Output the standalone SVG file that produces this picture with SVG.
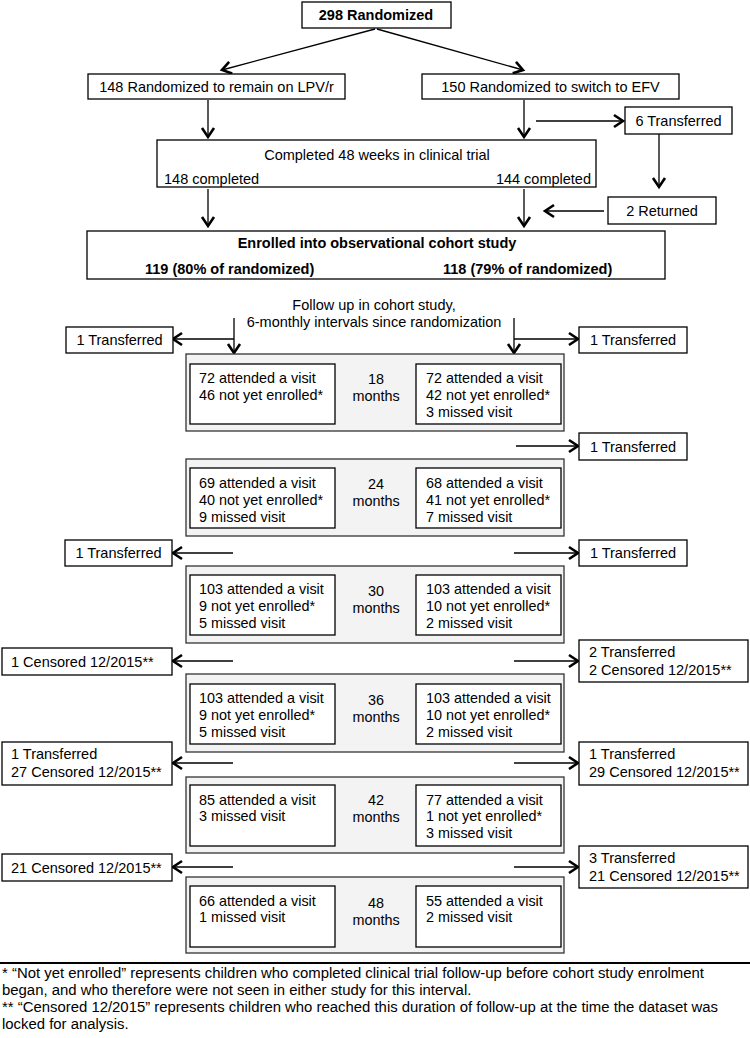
<svg xmlns="http://www.w3.org/2000/svg" width="750" height="1038" viewBox="0 0 750 1038">
<defs>
<marker id="ah" markerWidth="14" markerHeight="16" refX="11" refY="7" orient="auto" markerUnits="userSpaceOnUse" viewBox="0 0 14 14">
<path d="M2,1 L11,7 L2,13" fill="none" stroke="#000" stroke-width="2.6"/>
</marker>
</defs>
<style>
text{font-family:"Liberation Sans",Arial,sans-serif;fill:#000}
.t{font-size:14.5px}
.s{font-size:14.4px}
.f{font-size:14.9px}
.b{font-weight:bold}
.m{text-anchor:middle}
.e{text-anchor:end}
.box{fill:#fff;stroke:#000;stroke-width:1.3}
.panel{fill:#f3f3f3;stroke:#333;stroke-width:1.3}
.ln{fill:none;stroke:#000;stroke-width:1.3}
.ar{fill:none;stroke:#000;stroke-width:1.3;marker-end:url(#ah)}
</style>
<rect width="750" height="1038" fill="#fff"/>

<g id="connectors">
<line class="ar" x1="375" y1="29" x2="222" y2="70"/>
<line class="ar" x1="377" y1="29" x2="523" y2="70"/>
<line class="ar" x1="208" y1="100" x2="208" y2="137"/>
<line class="ar" x1="524" y1="100" x2="524" y2="137"/>
<line class="ar" x1="536" y1="121" x2="623" y2="121"/>
<line class="ar" x1="659" y1="134" x2="659" y2="187"/>
<line class="ar" x1="604" y1="211" x2="545" y2="211"/>
<line class="ar" x1="208" y1="189" x2="208" y2="226"/>
<line class="ar" x1="524" y1="189" x2="524" y2="226"/>
<line class="ar" x1="234" y1="318" x2="234" y2="353"/>
<line class="ar" x1="514" y1="318" x2="514" y2="353"/>
<line class="ar" x1="234" y1="339" x2="173" y2="339"/>
<line class="ar" x1="514" y1="339" x2="578" y2="339"/>
<line class="ar" x1="516" y1="446" x2="578" y2="446"/>
<line class="ar" x1="233" y1="553" x2="173" y2="553"/>
<line class="ar" x1="514" y1="553" x2="578" y2="553"/>
<line class="ar" x1="233" y1="661" x2="173" y2="661"/>
<line class="ar" x1="514" y1="661" x2="578" y2="661"/>
<line class="ar" x1="233" y1="763" x2="173" y2="763"/>
<line class="ar" x1="514" y1="763" x2="578" y2="763"/>
<line class="ar" x1="233" y1="867" x2="173" y2="867"/>
<line class="ar" x1="514" y1="867" x2="578" y2="867"/>
</g>

<g id="randomized">
<rect class="box" x="302" y="2" width="149" height="26"/>
<text class="t b m" x="376" y="20">298 Randomized</text>
</g>
<g id="lpv">
<rect class="box" x="88" y="74" width="257" height="25"/>
<text class="t m" x="216.5" y="92">148 Randomized to remain on LPV/r</text>
</g>
<g id="efv">
<rect class="box" x="422" y="74" width="257" height="25"/>
<text class="t m" x="550.5" y="92">150 Randomized to switch to EFV</text>
</g>
<g id="transferred6">
<rect class="box" x="625" y="107" width="107" height="27"/>
<text class="t m" x="678.5" y="126">6 Transferred</text>
</g>
<g id="completed">
<rect class="box" x="157" y="140" width="439" height="47"/>
<text class="t m" x="377" y="160">Completed 48 weeks in clinical trial</text>
<text class="t" x="164" y="184">148 completed</text>
<text class="t e" x="591" y="184">144 completed</text>
</g>
<g id="returned2">
<rect class="box" x="608" y="197" width="108" height="27"/>
<text class="t m" x="662" y="216">2 Returned</text>
</g>
<g id="enrolled">
<rect class="box" x="87" y="231" width="578" height="48"/>
<text class="t b m" x="377" y="248">Enrolled into observational cohort study</text>
<text class="t b" x="145" y="274">119 (80% of randomized)</text>
<text class="t b" x="443" y="274">118 (79% of randomized)</text>
</g>
<g id="followup">
<text class="t m" x="374" y="310">Follow up in cohort study,</text>
<text class="t m" x="374" y="327">6-monthly intervals since randomization</text>
</g>

<g id="left-transferred-1">
<rect class="box" x="66" y="327" width="107" height="26"/>
<text class="t m" x="119.5" y="345">1 Transferred</text>
</g>
<g id="right-transferred-1">
<rect class="box" x="579" y="327" width="108" height="26"/>
<text class="t m" x="633" y="345">1 Transferred</text>
</g>

<g id="m18">
<rect class="panel" x="186" y="354" width="378" height="77"/>
<rect class="box" x="190" y="364" width="145" height="60"/>
<rect class="box" x="416" y="364" width="145" height="60"/>
<text class="s" x="199" y="383">72 attended a visit</text>
<text class="s" x="199" y="400">46 not yet enrolled*</text>
<text class="s m" x="376" y="384">18</text>
<text class="s m" x="376" y="401">months</text>
<text class="s" x="426" y="383">72 attended a visit</text>
<text class="s" x="426" y="400">42 not yet enrolled*</text>
<text class="s" x="426" y="417">3 missed visit</text>
</g>

<g id="right-transferred-2">
<rect class="box" x="579" y="433" width="108" height="27"/>
<text class="t m" x="633" y="452">1 Transferred</text>
</g>

<g id="m24">
<rect class="panel" x="186" y="459" width="378" height="77"/>
<rect class="box" x="190" y="468" width="145" height="60"/>
<rect class="box" x="416" y="468" width="145" height="60"/>
<text class="s" x="199" y="488">69 attended a visit</text>
<text class="s" x="199" y="505">40 not yet enrolled*</text>
<text class="s" x="199" y="522">9 missed visit</text>
<text class="s m" x="376" y="489">24</text>
<text class="s m" x="376" y="506">months</text>
<text class="s" x="426" y="488">68 attended a visit</text>
<text class="s" x="426" y="505">41 not yet enrolled*</text>
<text class="s" x="426" y="522">7 missed visit</text>
</g>

<g id="left-transferred-2">
<rect class="box" x="65" y="540" width="107" height="26"/>
<text class="t m" x="118.5" y="558">1 Transferred</text>
</g>
<g id="right-transferred-3">
<rect class="box" x="579" y="540" width="108" height="26"/>
<text class="t m" x="633" y="558">1 Transferred</text>
</g>

<g id="m30">
<rect class="panel" x="186" y="566" width="378" height="77"/>
<rect class="box" x="190" y="575" width="145" height="60"/>
<rect class="box" x="416" y="575" width="145" height="60"/>
<text class="s" x="199" y="594">103 attended a visit</text>
<text class="s" x="199" y="611">9 not yet enrolled*</text>
<text class="s" x="199" y="628">5 missed visit</text>
<text class="s m" x="376" y="596">30</text>
<text class="s m" x="376" y="613">months</text>
<text class="s" x="426" y="594">103 attended a visit</text>
<text class="s" x="426" y="611">10 not yet enrolled*</text>
<text class="s" x="426" y="628">2 missed visit</text>
</g>

<g id="left-censored-1">
<rect class="box" x="2" y="648" width="170" height="27"/>
<text class="t" x="11" y="667">1 Censored 12/2015**</text>
</g>
<g id="right-tc-1">
<rect class="box" x="579" y="640" width="169" height="42"/>
<text class="t" x="589" y="657">2 Transferred</text>
<text class="t" x="589" y="675">2 Censored 12/2015**</text>
</g>

<g id="m36">
<rect class="panel" x="186" y="674" width="378" height="78"/>
<rect class="box" x="190" y="684" width="145" height="60"/>
<rect class="box" x="416" y="684" width="145" height="60"/>
<text class="s" x="199" y="703">103 attended a visit</text>
<text class="s" x="199" y="720">9 not yet enrolled*</text>
<text class="s" x="199" y="737">5 missed visit</text>
<text class="s m" x="376" y="705">36</text>
<text class="s m" x="376" y="722">months</text>
<text class="s" x="426" y="703">103 attended a visit</text>
<text class="s" x="426" y="720">10 not yet enrolled*</text>
<text class="s" x="426" y="737">2 missed visit</text>
</g>

<g id="left-tc-2">
<rect class="box" x="2" y="742" width="170" height="43"/>
<text class="t" x="11" y="759">1 Transferred</text>
<text class="t" x="11" y="777">27 Censored 12/2015**</text>
</g>
<g id="right-tc-2">
<rect class="box" x="579" y="742" width="169" height="43"/>
<text class="t" x="589" y="759">1 Transferred</text>
<text class="t" x="589" y="777">29 Censored 12/2015**</text>
</g>

<g id="m42">
<rect class="panel" x="186" y="777" width="378" height="76"/>
<rect class="box" x="190" y="785" width="145" height="61"/>
<rect class="box" x="416" y="785" width="145" height="61"/>
<text class="s" x="199" y="805">85 attended a visit</text>
<text class="s" x="199" y="821">3 missed visit</text>
<text class="s m" x="376" y="805">42</text>
<text class="s m" x="376" y="822">months</text>
<text class="s" x="426" y="805">77 attended a visit</text>
<text class="s" x="426" y="821">1 not yet enrolled*</text>
<text class="s" x="426" y="838">3 missed visit</text>
</g>

<g id="left-censored-2">
<rect class="box" x="2" y="854" width="170" height="27"/>
<text class="t" x="11" y="873">21 Censored 12/2015**</text>
</g>
<g id="right-tc-3">
<rect class="box" x="579" y="846" width="169" height="42"/>
<text class="t" x="589" y="863">3 Transferred</text>
<text class="t" x="589" y="881">21 Censored 12/2015**</text>
</g>

<g id="m48">
<rect class="panel" x="186" y="877" width="378" height="76"/>
<rect class="box" x="190" y="886" width="145" height="61"/>
<rect class="box" x="416" y="886" width="145" height="61"/>
<text class="s" x="199" y="906">66 attended a visit</text>
<text class="s" x="199" y="922">1 missed visit</text>
<text class="s m" x="376" y="908">48</text>
<text class="s m" x="376" y="925">months</text>
<text class="s" x="426" y="906">55 attended a visit</text>
<text class="s" x="426" y="922">2 missed visit</text>
</g>

<g id="footnotes">
<line x1="0" y1="963" x2="750" y2="963" stroke="#000" stroke-width="2"/>
<text class="f" x="2" y="978">* “Not yet enrolled” represents children who completed clinical trial follow-up before cohort study enrolment</text>
<text class="f" x="2" y="995">began, and who therefore were not seen in either study for this interval.</text>
<text class="f" x="2" y="1012">** “Censored 12/2015” represents children who reached this duration of follow-up at the time the dataset was</text>
<text class="f" x="2" y="1029">locked for analysis.</text>
</g>
</svg>
